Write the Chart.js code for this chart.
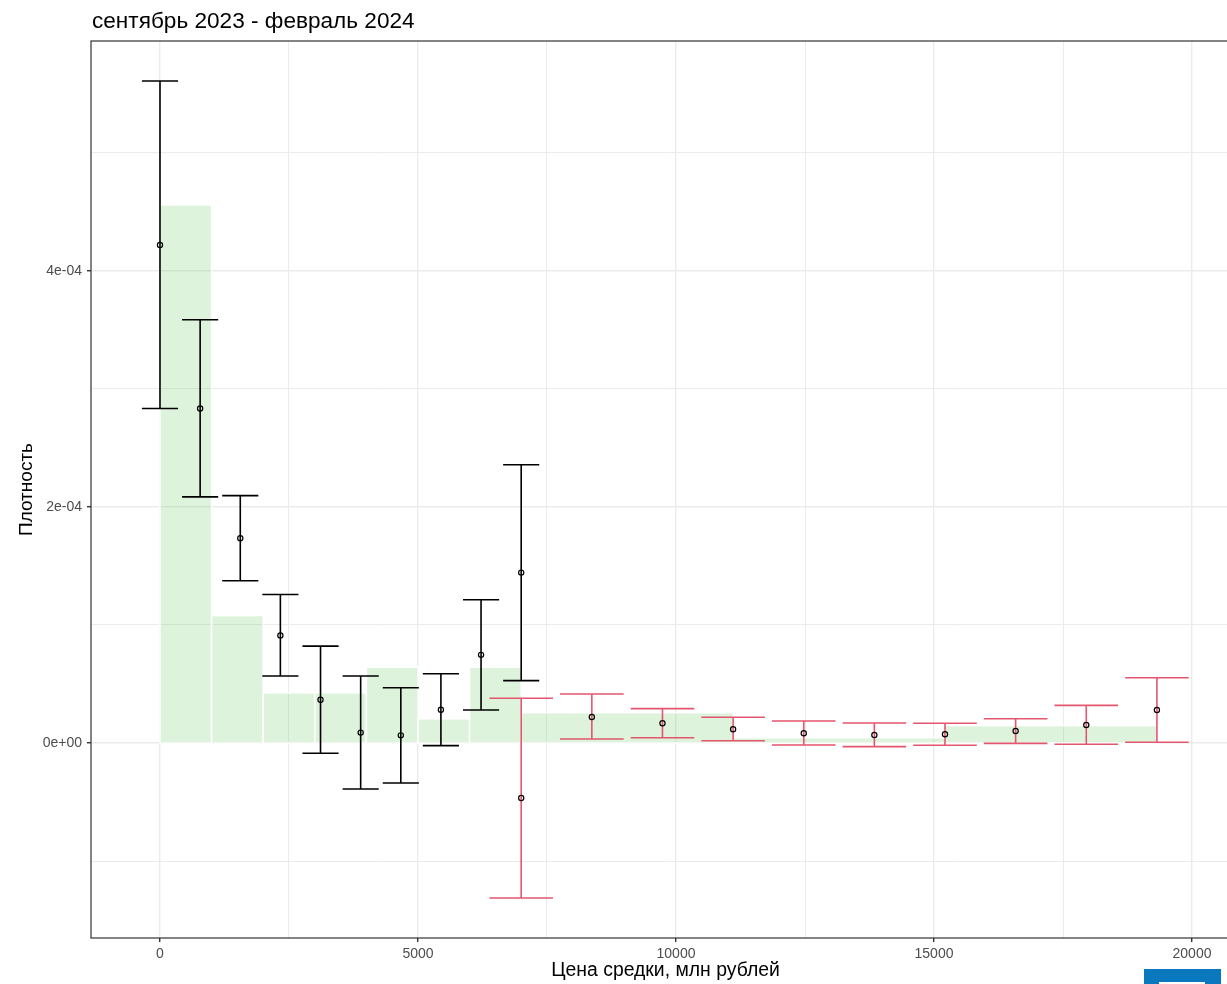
<!DOCTYPE html>
<html>
<head>
<meta charset="utf-8">
<script src="https://cdn.jsdelivr.net/npm/chart.js@4.4.1/dist/chart.umd.min.js"></script>
<style>
  html, body { margin: 0; padding: 0; background: #fff; overflow: hidden; }
  #wrap { position: absolute; left: 0; top: 0; width: 1240px; height: 984px; }
  #logo { position: absolute; left: 1144px; top: 969px; width: 77px; height: 15px; background: #0a78bf; }
  #logo div { position: absolute; left: 15px; top: 13px; width: 46px; height: 3px; background: #fff; }
</style>
</head>
<body>
<div id="wrap"><canvas id="chart"></canvas></div>
<div id="logo"><div></div></div>
<script>
// histogram (green bars)
const histStart = [0, 1000, 2000, 3000, 4000, 5000, 6000, 7000, 11107, 15213];
const histEnd = [1000, 2000, 3000, 4000, 5000, 6000, 7000, 11107, 15213, 19320];
const histDensity = [4.56e-4, 1.08e-4, 0.425e-4, 0.425e-4, 0.642e-4, 0.205e-4, 0.642e-4, 0.257e-4, 0.045e-4, 0.147e-4];

// black error bars
const blackX = [0, 778, 1556, 2333, 3111, 3889, 4667, 5444, 6222, 7000];
const blackMid = [4.22e-4, 2.835e-4, 1.736e-4, 0.912e-4, 0.367e-4, 0.088e-4, 0.065e-4, 0.282e-4, 0.747e-4, 1.444e-4];
const blackLow = [2.835e-4, 2.086e-4, 1.375e-4, 0.568e-4, -0.087e-4, -0.39e-4, -0.339e-4, -0.022e-4, 0.28e-4, 0.529e-4];
const blackHigh = [5.61e-4, 3.587e-4, 2.096e-4, 1.258e-4, 0.821e-4, 0.568e-4, 0.468e-4, 0.587e-4, 1.214e-4, 2.358e-4];

// red error bars
const redX = [7000, 8369, 9738, 11107, 12476, 13844, 15213, 16582, 17951, 19320];
const redMid = [-0.466e-4, 0.22e-4, 0.167e-4, 0.116e-4, 0.082e-4, 0.068e-4, 0.074e-4, 0.102e-4, 0.153e-4, 0.28e-4];
const redLow = [-1.314e-4, 0.034e-4, 0.045e-4, 0.019e-4, -0.017e-4, -0.031e-4, -0.019e-4, -0.003e-4, -0.011e-4, 0.006e-4];
const redHigh = [0.379e-4, 0.415e-4, 0.291e-4, 0.218e-4, 0.186e-4, 0.169e-4, 0.167e-4, 0.206e-4, 0.319e-4, 0.553e-4];

// ticks
const xTicks = [0, 2500, 5000, 7500, 10000, 12500, 15000, 17500, 20000];
const xMajor = [0, 5000, 10000, 15000, 20000];
const yTicks = [-1e-4, 0, 1e-4, 2e-4, 3e-4, 4e-4, 5e-4];
const yMajor = [0, 2e-4, 4e-4];

const titleText = 'сентябрь 2023 - февраль 2024';
const xTitle = 'Цена средки, млн рублей';
const yTitle = 'Плотность';

Chart.defaults.font.family = '"Liberation Sans", Arial, Helvetica, sans-serif';

function isMajor(list, v) {
  return list.some(m => Math.abs(m - v) < 1e-9);
}

function sci(v) {
  if (Math.abs(v) < 1e-12) return '0e+00';
  const e = Math.floor(Math.log10(Math.abs(v)) + 1e-9);
  const m = Math.round(v / Math.pow(10, e));
  return m + 'e' + (e < 0 ? '-' : '+') + String(Math.abs(e)).padStart(2, '0');
}

const histPlugin = {
  id: 'hist',
  beforeDatasetsDraw(chart) {
    const {ctx, scales: {x, y}} = chart;
    ctx.save();
    for (let i = 0; i < histDensity.length; i++) {
      const x0 = x.getPixelForValue(histStart[i]);
      const x1 = x.getPixelForValue(histEnd[i]);
      const y0 = y.getPixelForValue(0);
      const y1 = y.getPixelForValue(histDensity[i]);
      ctx.fillStyle = 'rgba(100, 200, 90, 0.22)';
      ctx.fillRect(x0, y1, x1 - x0, y0 - y1);
      ctx.strokeStyle = '#ffffff';
      ctx.lineWidth = 1.5;
      ctx.strokeRect(x0, y1, x1 - x0, y0 - y1);
    }
    ctx.restore();
  }
};

function drawErrorBars(chart, xs, lo, hi, color, width) {
  const {ctx, scales: {x, y}} = chart;
  ctx.save();
  ctx.strokeStyle = color;
  ctx.lineWidth = 1.6;
  for (let i = 0; i < xs.length; i++) {
    const px = x.getPixelForValue(xs[i]);
    const pl = x.getPixelForValue(xs[i] - width / 2);
    const pr = x.getPixelForValue(xs[i] + width / 2);
    const yl = y.getPixelForValue(lo[i]);
    const yh = y.getPixelForValue(hi[i]);
    ctx.beginPath();
    ctx.moveTo(px, yl); ctx.lineTo(px, yh);
    ctx.moveTo(pl, yl); ctx.lineTo(pr, yl);
    ctx.moveTo(pl, yh); ctx.lineTo(pr, yh);
    ctx.stroke();
  }
  ctx.restore();
}

const errorPlugin = {
  id: 'errorBars',
  beforeDatasetsDraw(chart) {
    drawErrorBars(chart, blackX, blackLow, blackHigh, '#000000', 700);
    drawErrorBars(chart, redX, redLow, redHigh, '#e3566f', 1232);
  }
};

const framePlugin = {
  id: 'frame',
  afterDraw(chart) {
    const {ctx, chartArea: a} = chart;
    ctx.save();
    ctx.strokeStyle = '#333333';
    ctx.lineWidth = 1.2;
    ctx.strokeRect(a.left, a.top, a.right - a.left, a.bottom - a.top);
    ctx.fillStyle = '#000000';
    ctx.font = '22.6px "Liberation Sans", Arial, sans-serif';
    ctx.textAlign = 'left';
    ctx.textBaseline = 'alphabetic';
    ctx.fillText(titleText, a.left + 1, 28);
    ctx.restore();
  }
};

new Chart(document.getElementById('chart'), {
  type: 'scatter',
  data: {
    datasets: [
      {
        label: 'black',
        data: blackX.map((v, i) => ({x: v, y: blackMid[i]})),
        pointRadius: 2.6,
        pointBorderWidth: 1.2,
        pointBorderColor: '#000000',
        pointBackgroundColor: 'rgba(0,0,0,0)'
      },
      {
        label: 'red',
        data: redX.map((v, i) => ({x: v, y: redMid[i]})),
        pointRadius: 2.6,
        pointBorderWidth: 1.2,
        pointBorderColor: '#000000',
        pointBackgroundColor: 'rgba(0,0,0,0)'
      }
    ]
  },
  options: {
    responsive: true,
    maintainAspectRatio: false,
    animation: false,
    layout: { padding: { top: 41, left: 0, right: 0, bottom: 0 }, autoPadding: false },
    plugins: {
      legend: { display: false },
      tooltip: { enabled: false },
      title: { display: false }
    },
    scales: {
      x: {
        type: 'linear',
        min: -1337,
        max: 20930,
        afterBuildTicks: scale => { scale.ticks = xTicks.map(v => ({value: v})); },
        afterFit: scale => { scale.height = 46; },
        ticks: {
          autoSkip: false,
          maxRotation: 0,
          color: '#4d4d4d',
          font: { size: 14 },
          padding: 4,
          callback: v => isMajor(xMajor, v) ? String(v) : ''
        },
        grid: {
          color: '#ebebeb',
          lineWidth: ctx => isMajor(xMajor, ctx.tick.value) ? 1.4 : 1.0,
          tickColor: ctx => isMajor(xMajor, ctx.tick.value) ? '#333333' : 'rgba(0,0,0,0)',
          tickLength: 4
        },
        border: { display: false },
        title: {
          display: true,
          text: xTitle,
          color: '#000000',
          font: { size: 19.4 },
          padding: { top: 0, bottom: 2 }
        }
      },
      y: {
        type: 'linear',
        min: -1.6525e-4,
        max: 5.949e-4,
        afterBuildTicks: scale => { scale.ticks = yTicks.map(v => ({value: v})); },
        afterFit: scale => { scale.width = 91; },
        ticks: {
          autoSkip: false,
          color: '#4d4d4d',
          font: { size: 14 },
          padding: 5,
          callback: v => isMajor(yMajor, v) ? sci(v) : ''
        },
        grid: {
          color: '#ebebeb',
          lineWidth: ctx => isMajor(yMajor, ctx.tick.value) ? 1.4 : 1.0,
          tickColor: ctx => isMajor(yMajor, ctx.tick.value) ? '#333333' : 'rgba(0,0,0,0)',
          tickLength: 4
        },
        border: { display: false },
        title: {
          display: true,
          text: yTitle,
          color: '#000000',
          font: { size: 19 },
          padding: { top: 15, bottom: 0 }
        }
      }
    }
  },
  plugins: [histPlugin, errorPlugin, framePlugin]
});
</script>
</body>
</html>
